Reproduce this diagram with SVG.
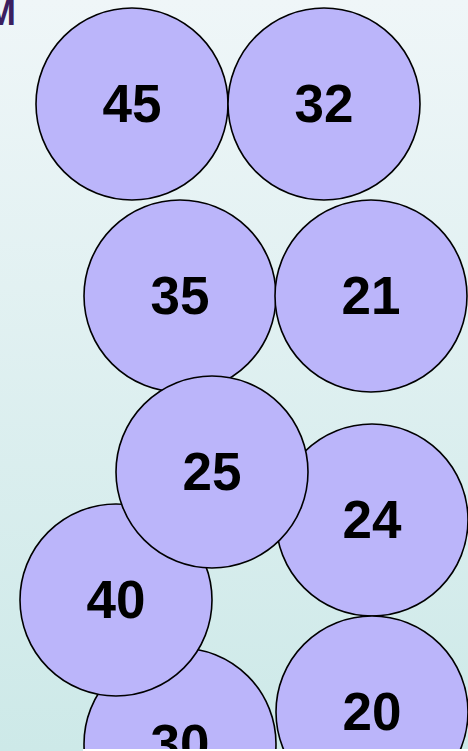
<svg xmlns="http://www.w3.org/2000/svg" width="468" height="751" viewBox="0 0 468 751">
<defs>
<linearGradient id="bg" x1="0" y1="0" x2="0" y2="1">
<stop offset="0" stop-color="#eff6f8"/>
<stop offset="1" stop-color="#cde9e8"/>
</linearGradient>
<style>
.c{fill:#bbb5fa;stroke:#000;stroke-width:1.6}
.t{font-family:"Liberation Sans",Arial,sans-serif;font-weight:bold;font-size:53px;fill:#000;text-anchor:middle}
</style>
</defs>
<rect width="468" height="751" fill="url(#bg)"/>
<text x="-14" y="25" font-family="Liberation Sans, Arial, sans-serif" font-weight="bold" font-size="36" fill="#3b1f5f">M</text>
<g id="connectors"/>
<g id="n45"><circle class="c" cx="132" cy="104" r="96"/><text class="t" x="132" y="122">45</text></g>
<g id="n32"><circle class="c" cx="324" cy="104" r="96"/><text class="t" x="324" y="122">32</text></g>
<g id="n35"><circle class="c" cx="180" cy="296" r="96"/><text class="t" x="180" y="314">35</text></g>
<g id="n21"><circle class="c" cx="371" cy="296" r="96"/><text class="t" x="371" y="314">21</text></g>
<g id="n24"><circle class="c" cx="372" cy="520" r="96"/><text class="t" x="372" y="538">24</text></g>
<g id="n30"><circle class="c" cx="180" cy="744" r="96"/><text class="t" x="180" y="762">30</text></g>
<g id="n40"><circle class="c" cx="116" cy="600" r="96"/><text class="t" x="116" y="618">40</text></g>
<g id="n25"><circle class="c" cx="212" cy="472" r="96"/><text class="t" x="212" y="490">25</text></g>
<g id="n20"><circle class="c" cx="372" cy="712" r="96"/><text class="t" x="372" y="730">20</text></g>
<rect x="83" y="749" width="385" height="2" fill="#fff"/>
</svg>
